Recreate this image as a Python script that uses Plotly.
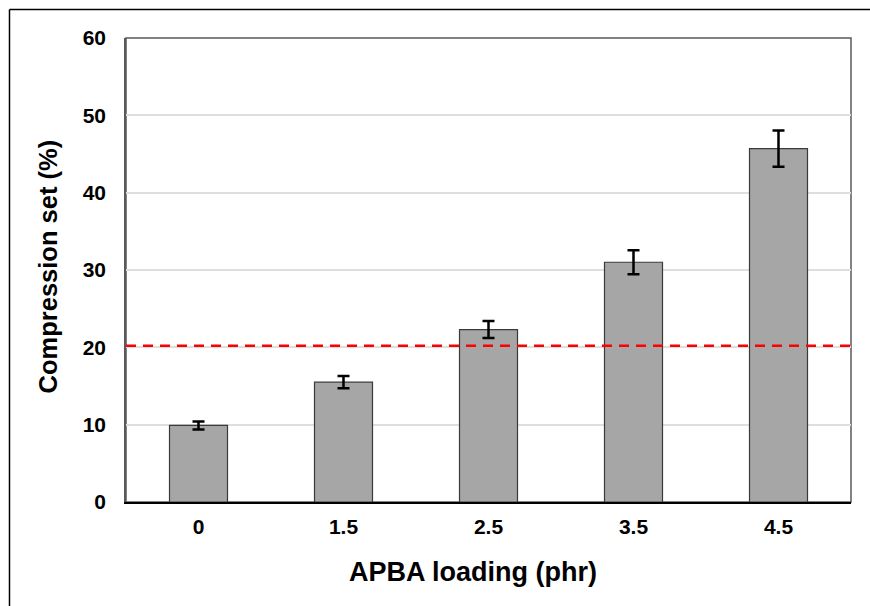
import plotly.graph_objects as go

categories = ["0", "1.5", "2.5", "3.5", "4.5"]
compression_set = [9.9, 15.5, 22.3, 31.0, 45.7]
error = [0.52, 0.8, 1.1, 1.55, 2.35]
threshold = 20.2
y_ticks = [0, 10, 20, 30, 40, 50, 60]

FONT = "Arial, Liberation Sans, sans-serif"

fig = go.Figure()
fig.add_trace(go.Bar(
    x=categories, y=compression_set, width=0.4,
    marker=dict(color="#a6a6a6", line=dict(color="#3a3a3a", width=1.2)),
    error_y=dict(type="data", array=error, visible=True, color="#000000",
                 thickness=2.5, width=6),
    showlegend=False, hoverinfo="skip",
))

fig.add_shape(type="line", xref="paper", yref="y", x0=0, x1=1,
              y0=threshold, y1=threshold,
              line=dict(color="#ff0000", width=2.5, dash="10px,7px"), layer="above")

# plot-area frame (top/right/left gray)
fig.add_shape(type="rect", xref="paper", yref="paper", x0=0, x1=1, y0=0, y1=1,
              line=dict(color="#595959", width=1.5), layer="below")

# outer image frame (left and top edges)
fig.add_shape(type="line", xref="paper", yref="paper", x0=-0.1607, x1=-0.1607,
              y0=1.0614, y1=-0.3, line=dict(color="#000000", width=1.5))
fig.add_shape(type="line", xref="paper", yref="paper", x0=-0.1607, x1=1.2,
              y0=1.0614, y1=1.0614, line=dict(color="#000000", width=1.5))

fig.add_annotation(text="<b>APBA loading (phr)</b>", xref="paper", yref="paper",
                   x=0.4793, y=-0.15, xanchor="center", yanchor="middle",
                   showarrow=False, font=dict(family=FONT, size=27, color="#000000"))
fig.add_annotation(text="<b>Compression set (%)</b>", xref="paper", yref="paper",
                   x=-0.1076, y=0.5076, xanchor="center", yanchor="middle",
                   textangle=-90, showarrow=False,
                   font=dict(family=FONT, size=25.5, color="#000000"))

fig.update_layout(
    width=870, height=606,
    margin=dict(l=126, r=19, t=38, b=104),
    paper_bgcolor="white", plot_bgcolor="white",
    font=dict(family=FONT, size=20, color="#000000"),
    bargap=0.6,
)
fig.update_xaxes(
    type="category", showline=True, linecolor="#000000", linewidth=2,
    ticks="", showgrid=False,
    tickfont=dict(family=FONT, size=21, weight="bold", color="#000000"),
    ticklabelstandoff=5,
)
fig.update_yaxes(
    range=[0, 60], tickvals=y_ticks, ticktext=[str(v) for v in y_ticks],
    showline=True, linecolor="#595959", linewidth=1.5,
    showgrid=True, gridcolor="#dedede", gridwidth=1.5,
    zeroline=False, ticks="",
    tickfont=dict(family=FONT, size=21, weight="bold", color="#000000"),
    ticklabelstandoff=14,
)

fig.write_html("out.html", config={"displayModeBar": False},
               post_script="document.body.style.margin='0';document.body.style.overflow='hidden';")
